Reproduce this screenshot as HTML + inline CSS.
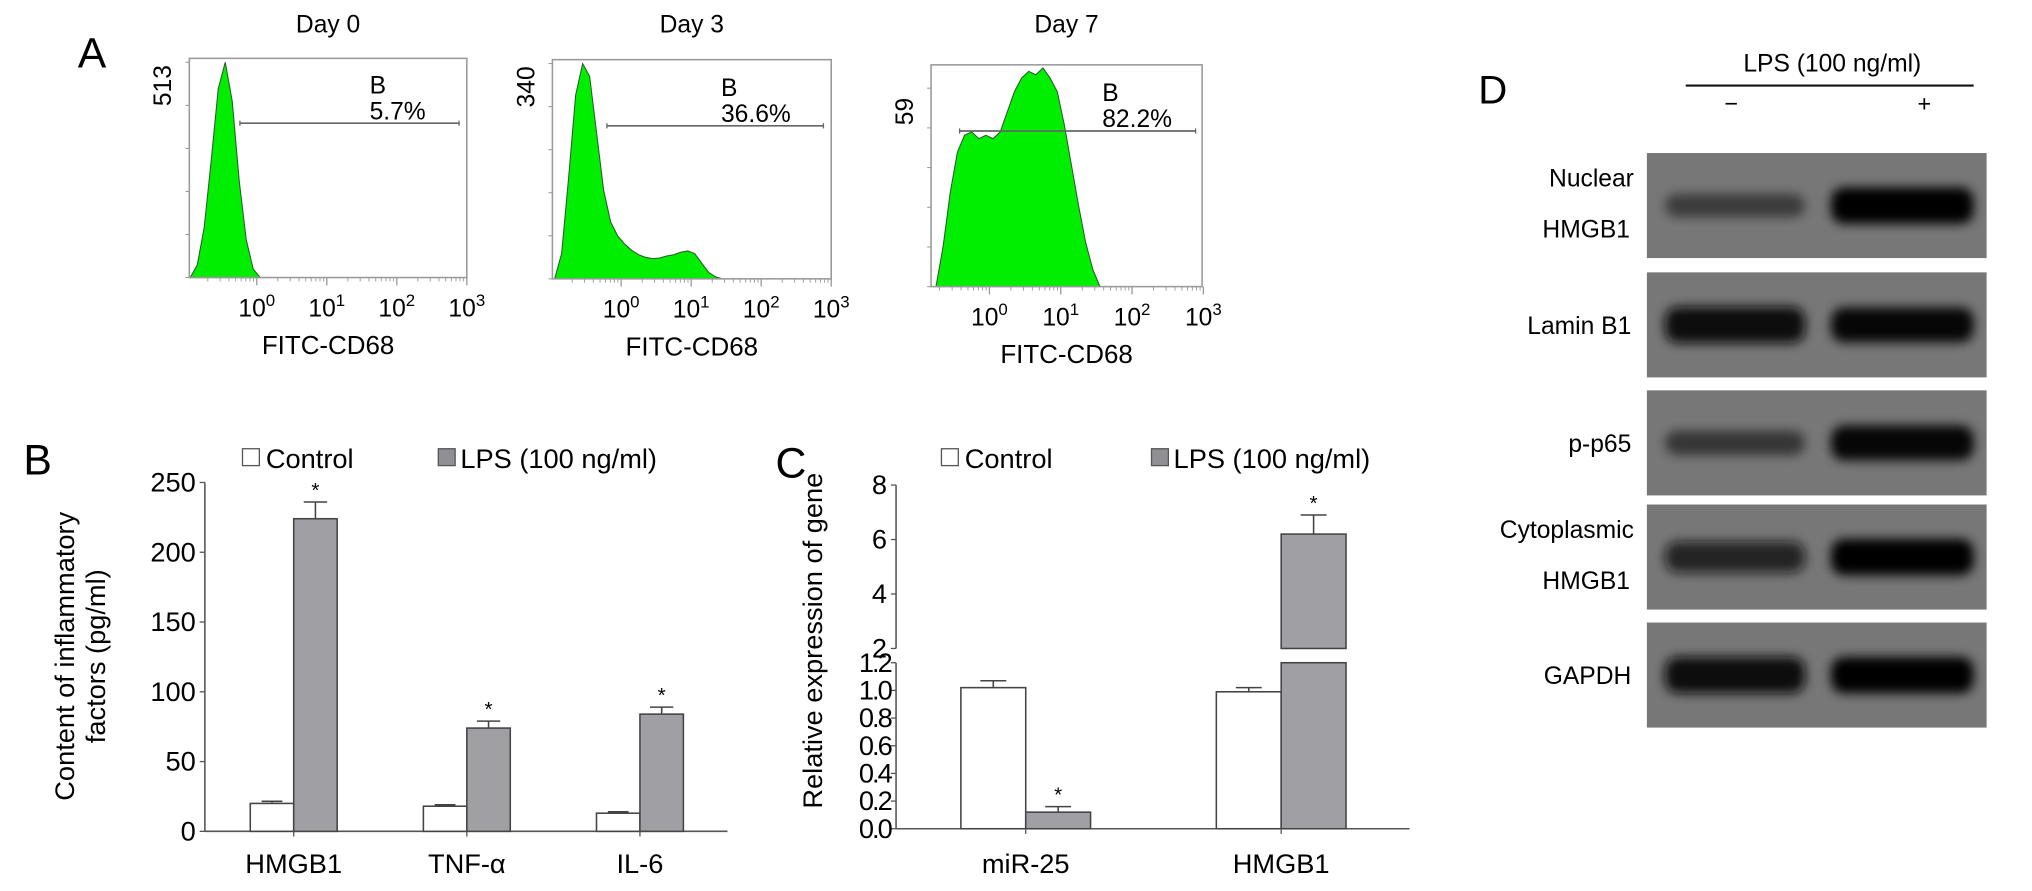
<!DOCTYPE html>
<html><head><meta charset="utf-8"><style>
html,body{margin:0;padding:0;background:#fff;}
svg{display:block;font-family:"Liberation Sans",Arial,sans-serif;}
</style></head><body>
<svg id="fig" width="2032" height="891" viewBox="0 0 1567 687" preserveAspectRatio="none" xmlns="http://www.w3.org/2000/svg">
<defs>
<filter id="blur" x="-20%" y="-100%" width="140%" height="300%"><feGaussianBlur stdDeviation="4"/></filter>
</defs>
<g id="panelA"></g>
<g id="panelB"></g>
<g id="panelC"></g>
<g id="panelD"></g>
</svg>
<script>
// ---------- Panel A data ----------
const day0Log = [-0.95,-0.85,-0.75,-0.65,-0.55,-0.45,-0.35,-0.25,-0.15,-0.05,0.05];
const day0Counts = [0,30,120,280,450,513,420,230,90,20,0];
const day3Log = [-0.95,-0.85,-0.75,-0.65,-0.55,-0.45,-0.35,-0.25,-0.15,-0.05,0.05,0.15,0.25,0.35,0.45,0.55,0.65,0.75,0.85,0.95,1.05,1.15,1.25,1.35,1.45];
const day3Counts = [0,40,160,290,340,320,230,140,90,68,55,45,38,34,32,33,36,38,42,44,40,25,10,3,0];
const day7Log = [-0.75,-0.65,-0.55,-0.45,-0.35,-0.25,-0.15,-0.05,0.05,0.15,0.25,0.35,0.45,0.55,0.65,0.75,0.85,0.95,1.05,1.15,1.25,1.35,1.45,1.55];
const day7Counts = [0,12,28,40,45,46,44,45,44,46,52,58,62,64,63,65,62,58,48,36,24,13,5,0];
const dayTitles = ["Day 0","Day 3","Day 7"];
const yMaxLabels = [513,340,59];
const gateLabels = ["5.7%","36.6%","82.2%"];
const decadeTicks = [0,1,2,3];
// ---------- Panel B data ----------
const bCategories = ["HMGB1","TNF-\u03b1","IL-6"];
const bControl = [20,18,13];
const bControlErr = [1.5,1,1];
const bLPS = [224,74,84];
const bLPSErr = [12,5,5];
const bTicks = [0,50,100,150,200,250];
// ---------- Panel C data ----------
const cCategories = ["miR-25","HMGB1"];
const cControl = [1.02,0.99];
const cControlErr = [0.05,0.03];
const cLPS = [0.12,6.2];
const cLPSErr = [0.04,0.7];
const cLowTicks = ["0.0","0.2","0.4","0.6","0.8","1.0","1.2"];
const cHighTicks = [2,4,6,8];
// ---------- Panel D data ----------
const blotLabels = [["Nuclear","HMGB1"],["Lamin B1"],["p-p65"],["Cytoplasmic","HMGB1"],["GAPDH"]];
const bandLeft = [0.5,1.0,0.55,0.8,1.0];
const bandRight = [1.0,0.95,0.95,1.0,1.0];

const NS="http://www.w3.org/2000/svg";
function mk(parent,tag,attrs,txt){const e=document.createElementNS(NS,tag);for(const k in attrs)e.setAttribute(k,attrs[k]);if(txt!==undefined)e.textContent=txt;parent.appendChild(e);return e;}

// ===== Panel A =====
const A=document.getElementById('panelA');
let t=mk(A,'text',{x:60,y:52,'font-size':33},'A');


const plots=[
 {x0:146,x1:360,top:45,bot:214,zero:198,dec:54,tickY:48,gateY:95,gx0:185,gx1:354,bx:285,data:[day0Log,day0Counts]},
 {x0:426,x1:641,top:46,bot:215,zero:479,dec:54,tickY:49,gateY:97,gx0:468,gx1:635,bx:556,data:[day3Log,day3Counts]},
 {x0:718,x1:927,top:50,bot:221,zero:763,dec:55,tickY:68,gateY:101,gx0:740,gx1:922,bx:850,data:[day7Log,day7Counts]}
];
plots.forEach((p,i)=>{
  const g=mk(A,'g',{});
  
  
  const xs=v=>p.zero+v*p.dec;
  const ys=v=>p.bot-v/yMaxLabels[i]*(p.bot-p.tickY);
  let tt=mk(g,'text',{x:(p.x0+p.x1)/2,y:25,'font-size':19,'text-anchor':'middle'},dayTitles[i]);
  
  
  const [lg,cnt]=p.data;
  let d='M'+xs(lg[0])+','+p.bot;
  lg.forEach((l,j)=>{d+=' L'+xs(l).toFixed(1)+','+ys(cnt[j]).toFixed(1);});
  d+=' L'+xs(lg[lg.length-1])+','+p.bot+' Z';
  let hp=mk(g,'path',{d:d,fill:'#00ee00',stroke:'#2a5a2a','stroke-width':0.8});
  
  
  let box=mk(g,'rect',{x:p.x0,y:p.top,width:p.x1-p.x0,height:p.bot-p.top,fill:'none',stroke:'#9a9a9a','stroke-width':1.2});
  
  
  for(let k=0;k<=5;k++){const yy=p.bot-k*(p.bot-p.tickY)/5;mk(g,'line',{x1:p.x0-3,x2:p.x0,y1:yy,y2:yy,stroke:'#999','stroke-width':0.8});}
  let yl=mk(g,'text',{x:0,y:0,'font-size':19,'text-anchor':'middle',transform:`translate(${p.x0-14},${p.tickY+18}) rotate(-90)`},String(yMaxLabels[i]));
  
  
  for(let dd=-1;dd<3;dd++){for(let k=2;k<=9;k++){const xx=xs(dd+Math.log10(k));if(xx>p.x0&&xx<p.x1)mk(g,'line',{x1:xx,x2:xx,y1:p.bot,y2:p.bot+3,stroke:'#999','stroke-width':0.7});}}
  decadeTicks.forEach(dv=>{
    const xx=xs(dv);
    mk(g,'line',{x1:xx,x2:xx,y1:p.bot,y2:p.bot+6,stroke:'#999','stroke-width':1});
    const lt=mk(g,'text',{x:xx,y:p.bot+30,'font-size':19,'text-anchor':'middle'});
    
    
    mk(lt,'tspan',{},'10');
    mk(lt,'tspan',{dy:-8,'font-size':13},String(dv));
  });
  let xt=mk(g,'text',{x:(p.x0+p.x1)/2,y:p.bot+59,'font-size':20,'text-anchor':'middle'},'FITC-CD68');
  
  
  let gl=mk(g,'line',{x1:p.gx0,x2:p.gx1,y1:p.gateY,y2:p.gateY,stroke:'#666','stroke-width':1.3});
  
  
  mk(g,'line',{x1:p.gx0,x2:p.gx0,y1:p.gateY-2,y2:p.gateY+2,stroke:'#666','stroke-width':1});
  mk(g,'line',{x1:p.gx1,x2:p.gx1,y1:p.gateY-2,y2:p.gateY+2,stroke:'#666','stroke-width':1});
  let gb=mk(g,'text',{x:p.bx,y:p.gateY-23,'font-size':19},'B');
  
  
  let gp=mk(g,'text',{x:p.bx,y:p.gateY-3,'font-size':19},gateLabels[i]);
  
  
});

// ===== Panel B =====
const B=document.getElementById('panelB');
t=mk(B,'text',{x:18,y:366,'font-size':33},'B');


const bx0=158,bxEnd=561,bBase=641,bTop=372;
const yB=v=>bBase-v*(bBase-bTop)/250;
mk(B,'line',{x1:bx0,x2:bx0,y1:bTop,y2:bBase,stroke:'#555','stroke-width':1.2});
mk(B,'line',{x1:bx0,x2:bxEnd,y1:bBase,y2:bBase,stroke:'#555','stroke-width':1.2});
bTicks.forEach(v=>{
  mk(B,'line',{x1:bx0-4,x2:bx0,y1:yB(v),y2:yB(v),stroke:'#555'});
  const tl=mk(B,'text',{x:bx0-7,y:yB(v)+7,'font-size':21,'text-anchor':'end'},String(v));
  
  
});
let ytB=mk(B,'text',{x:0,y:0,'font-size':21,'text-anchor':'middle',transform:'translate(57,506) rotate(-90)'},'Content of inflammatory');


ytB=mk(B,'text',{x:0,y:0,'font-size':21,'text-anchor':'middle',transform:'translate(81,506) rotate(-90)'},'factors (pg/ml)');


const bGroupStart=193,bGroupStep=133.5,bBarW=33.5;
bCategories.forEach((c,i)=>{
  const x=bGroupStart+i*bGroupStep;
  let r=mk(B,'rect',{x:x,y:yB(bControl[i]),width:bBarW,height:bBase-yB(bControl[i]),fill:'#fff',stroke:'#444','stroke-width':1.2});
  
  
  const cx=x+bBarW/2;
  mk(B,'line',{x1:cx,x2:cx,y1:yB(bControl[i]),y2:yB(bControl[i]+bControlErr[i]),stroke:'#444'});
  mk(B,'line',{x1:cx-8,x2:cx+8,y1:yB(bControl[i]+bControlErr[i]),y2:yB(bControl[i]+bControlErr[i]),stroke:'#444','stroke-width':1.2});
  const x2=x+bBarW;
  r=mk(B,'rect',{x:x2,y:yB(bLPS[i]),width:bBarW,height:bBase-yB(bLPS[i]),fill:'#a0a0a4',stroke:'#444','stroke-width':1.2});
  
  
  const cx2=x2+bBarW/2,ye=yB(bLPS[i]+bLPSErr[i]);
  mk(B,'line',{x1:cx2,x2:cx2,y1:yB(bLPS[i]),y2:ye,stroke:'#444','stroke-width':1.2});
  mk(B,'line',{x1:cx2-9,x2:cx2+9,y1:ye,y2:ye,stroke:'#444','stroke-width':1.2});
  const st=mk(B,'text',{x:cx2,y:ye-4,'font-size':16,'text-anchor':'middle'},'*');
  
  
  mk(B,'line',{x1:x2,x2:x2,y1:bBase,y2:bBase+4,stroke:'#555'});
  const cl=mk(B,'text',{x:x2,y:673,'font-size':21,'text-anchor':'middle'},c);
  
  
});
let lg=mk(B,'rect',{x:187,y:346,width:13,height:13,fill:'#fff',stroke:'#555'});


lg=mk(B,'text',{x:205,y:361,'font-size':21},'Control');


lg=mk(B,'rect',{x:338,y:346,width:13,height:13,fill:'#909094',stroke:'#555'});


lg=mk(B,'text',{x:355,y:361,'font-size':21},'LPS (100 ng/ml)');



// ===== Panel C =====
const C=document.getElementById('panelC');
t=mk(C,'text',{x:598,y:368,'font-size':33},'C');


const cx0=691,cxEnd=1087,cBase=639,cLowTop=511,cHighBot=500,cPerUnitHigh=21;
const yC=v=>v<=1.2?cBase-v*(cBase-cLowTop)/1.2:cHighBot-(v-2)*cPerUnitHigh;
mk(C,'line',{x1:cx0,x2:cx0,y1:cLowTop,y2:cBase,stroke:'#555','stroke-width':1.2});
mk(C,'line',{x1:cx0,x2:cx0,y1:yC(8),y2:cHighBot,stroke:'#555','stroke-width':1.2});
mk(C,'line',{x1:cx0,x2:cxEnd,y1:cBase,y2:cBase,stroke:'#555','stroke-width':1.2});
cLowTicks.forEach(s=>{
  const v=parseFloat(s),y=yC(v);
  mk(C,'line',{x1:cx0-4,x2:cx0,y1:y,y2:y,stroke:'#555'});
  const tl=mk(C,'text',{x:cx0-4,y:y+7,'font-size':21,'text-anchor':'end','letter-spacing':-1.5},s);
  
  
});
cHighTicks.forEach(v=>{
  const y=yC(v);
  mk(C,'line',{x1:cx0-4,x2:cx0,y1:y,y2:y,stroke:'#555'});
  const tl=mk(C,'text',{x:cx0-7,y:y+7,'font-size':21,'text-anchor':'end'},String(v));
  
  
});
let ytC=mk(C,'text',{x:0,y:0,'font-size':21,'text-anchor':'middle',transform:'translate(634,494) rotate(-90)'},'Relative expression of gene');


const cGroupStart=741,cGroupStep=197,cBarW=50;
function cBar(x,v,fill,name){
  if(v<=1.2){
    const r=mk(C,'rect',{x:x,y:yC(v),width:cBarW,height:cBase-yC(v),fill:fill,stroke:'#444','stroke-width':1.2});
    
    
  } else {
    const r=mk(C,'rect',{x:x,y:cLowTop,width:cBarW,height:cBase-cLowTop,fill:fill,stroke:'#444','stroke-width':1.2});
    
    
    const r2=mk(C,'rect',{x:x,y:yC(v),width:cBarW,height:cHighBot-yC(v),fill:fill,stroke:'#444','stroke-width':1.2});
    
    
  }
}
cCategories.forEach((c,i)=>{
  const x=cGroupStart+i*cGroupStep;
  cBar(x,cControl[i],'#fff','bar-control-'+i);
  const cx=x+cBarW/2,ye=yC(cControl[i]+cControlErr[i]);
  mk(C,'line',{x1:cx,x2:cx,y1:yC(cControl[i]),y2:ye,stroke:'#444','stroke-width':1.2});
  mk(C,'line',{x1:cx-10,x2:cx+10,y1:ye,y2:ye,stroke:'#444','stroke-width':1.2});
  const x2=x+cBarW;
  cBar(x2,cLPS[i],'#a0a0a4','bar-lps-'+i);
  const cx2=x2+cBarW/2,ye2=yC(cLPS[i]+cLPSErr[i]);
  mk(C,'line',{x1:cx2,x2:cx2,y1:yC(cLPS[i]),y2:ye2,stroke:'#444','stroke-width':1.2});
  mk(C,'line',{x1:cx2-10,x2:cx2+10,y1:ye2,y2:ye2,stroke:'#444','stroke-width':1.2});
  const st=mk(C,'text',{x:cx2,y:ye2-4,'font-size':16,'text-anchor':'middle'},'*');
  
  
  mk(C,'line',{x1:x2,x2:x2,y1:cBase,y2:cBase+4,stroke:'#555'});
  const cl=mk(C,'text',{x:x2,y:673,'font-size':21,'text-anchor':'middle'},c);
  
  
});
lg=mk(C,'rect',{x:726,y:346,width:13,height:13,fill:'#fff',stroke:'#555'});


lg=mk(C,'text',{x:744,y:361,'font-size':21},'Control');


lg=mk(C,'rect',{x:888,y:346,width:13,height:13,fill:'#909094',stroke:'#555'});


lg=mk(C,'text',{x:905,y:361,'font-size':21},'LPS (100 ng/ml)');



// ===== Panel D =====
const D=document.getElementById('panelD');
t=mk(D,'text',{x:1140,y:80,'font-size':31},'D');


t=mk(D,'text',{x:1413,y:55,'font-size':19,'text-anchor':'middle'},'LPS (100 ng/ml)');


mk(D,'line',{x1:1300,x2:1522,y1:66,y2:66,stroke:'#111','stroke-width':1.6});
t=mk(D,'text',{x:1335,y:86,'font-size':18,'text-anchor':'middle'},'\u2212');


t=mk(D,'text',{x:1484,y:86,'font-size':18,'text-anchor':'middle'},'+');


const rowTops=[118,210,301,389,480],rowH=81;
blotLabels.forEach((lab,i)=>{
  const y0=rowTops[i];
  const g=mk(D,'g',{});
  
  
  mk(g,'rect',{x:1270,y:y0,width:262,height:rowH,fill:'#777777'});
  const cy=y0+rowH/2;
  const hL=8+bandLeft[i]*20, hR=8+bandRight[i]*20;
  let b=mk(g,'rect',{x:1284,y:cy-hL/2,width:108,height:hL,rx:10,fill:'#0a0a0a','fill-opacity':bandLeft[i],filter:'url(#blur)'});
  
  
  b=mk(g,'rect',{x:1412,y:cy-hR/2,width:110,height:hR,rx:10,fill:'#050505','fill-opacity':bandRight[i],filter:'url(#blur)'});
  
  
  if(lab.length===2){
    const a=mk(D,'text',{x:1260,y:y0+26,'font-size':19,'text-anchor':'end'},lab[0]);
    
    
    const c2=mk(D,'text',{x:1257,y:y0+65,'font-size':19,'text-anchor':'end'},lab[1]);
    
    
  } else {
    const a=mk(D,'text',{x:1258,y:y0+rowH/2+7,'font-size':19,'text-anchor':'end'},lab[0]);
    
    
  }
});
</script>
</body></html>
